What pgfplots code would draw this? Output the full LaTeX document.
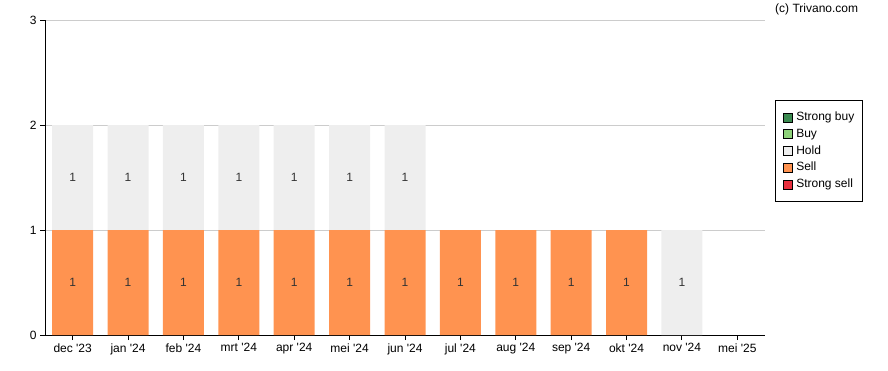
\documentclass[border=0pt]{standalone}
\usepackage{fontspec}
\setmainfont{Liberation Sans}
\usepackage{pgfplots}
\pgfplotsset{compat=1.18}
\usepackage{pgfplotstable}

\definecolor{sellc}{HTML}{FF9350}
\definecolor{holdc}{HTML}{EEEEEE}
\definecolor{sbuyc}{HTML}{3A8A50}
\definecolor{buyc}{HTML}{8ED27A}
\definecolor{ssellc}{HTML}{E8303F}
\definecolor{gridc}{HTML}{CCCCCC}
\definecolor{labc}{HTML}{333333}
\newcommand{\q}{\textquotesingle}

% ratings per month: sell (bottom), hold (stacked on top)
\pgfplotstableread{
x sell hold
0 1 1
1 1 1
2 1 1
3 1 1
4 1 1
5 1 1
6 1 1
7 1 0
8 1 0
9 1 0
10 1 0
11 0 1
12 0 0
}\data

% count labels at the middle of each non-empty segment
\pgfplotstableread{
x y lab
0 0.5 1
1 0.5 1
2 0.5 1
3 0.5 1
4 0.5 1
5 0.5 1
6 0.5 1
7 0.5 1
8 0.5 1
9 0.5 1
10 0.5 1
0 1.5 1
1 1.5 1
2 1.5 1
3 1.5 1
4 1.5 1
5 1.5 1
6 1.5 1
11 0.5 1
}\labels

\pgfplotsset{
  common/.style={scale only axis, width=720pt, height=315pt,
    xmin=-0.5, xmax=12.5, ymin=0, ymax=3},
}

\begin{document}
\begin{tikzpicture}
\begin{axis}[
  common,
  ybar stacked, bar width=41pt,
  xtick={0,...,12},
  xticklabels={dec \q23, jan \q24, feb \q24, mrt \q24, apr \q24, mei \q24, jun \q24, jul \q24, aug \q24, sep \q24, okt \q24, nov \q24, mei \q25},
  ytick={0,1,2,3},
  axis x line*=bottom, axis y line*=left,
  axis line style={black, line width=1pt, -},
  ymajorgrids, grid style={gridc, line width=0.8pt},
  tick style={black, line width=1pt}, tick align=outside, major tick length=5pt,
  font=\fontsize{12}{14}\selectfont,
  tick label style={font=\fontsize{12}{14}\selectfont},
  /pgf/number format/assume math mode=true,
  legend style={at={(axis description cs:1,1)}, anchor=north west, xshift=10pt, yshift=-80pt,
    draw=black, line width=1pt, font=\fontsize{12}{14}\selectfont,
    inner xsep=7pt, inner ysep=10pt, row sep=2.75pt,
    nodes={inner sep=1pt, text height=9pt, text depth=3pt}},
  legend cell align=left,
  legend image code/.code={\draw[#1, draw=black, line width=0.6pt] (0pt,-4.5pt) rectangle (9pt,4.5pt); \path (12pt,0pt);},
]
\addplot[fill=sellc, draw=none, forget plot] table[x=x, y=sell]{\data};
\addplot[fill=holdc, draw=none, forget plot] table[x=x, y=hold]{\data};
\addlegendimage{fill=sbuyc}
\addlegendentry{Strong buy}
\addlegendimage{fill=buyc}
\addlegendentry{Buy}
\addlegendimage{fill=holdc}
\addlegendentry{Hold}
\addlegendimage{fill=sellc}
\addlegendentry{Sell}
\addlegendimage{fill=ssellc}
\addlegendentry{Strong sell}
\end{axis}
\begin{axis}[
  common, hide axis,
]
\addplot[draw=none, mark=none, point meta=explicit symbolic,
  nodes near coords, nodes near coords style={anchor=center, text=labc, font=\fontsize{12}{14}\selectfont}]
  table[x=x, y=y, meta=lab]{\labels};
\end{axis}
\node[anchor=north west, inner sep=0pt, font=\fontsize{12}{14}\selectfont] at ([xshift=10pt,yshift=16pt]current axis.north east) {(c) Trivano.com};
\pgfresetboundingbox
\path (-45pt,-35pt) rectangle (843pt,335pt);
\end{tikzpicture}
\end{document}
